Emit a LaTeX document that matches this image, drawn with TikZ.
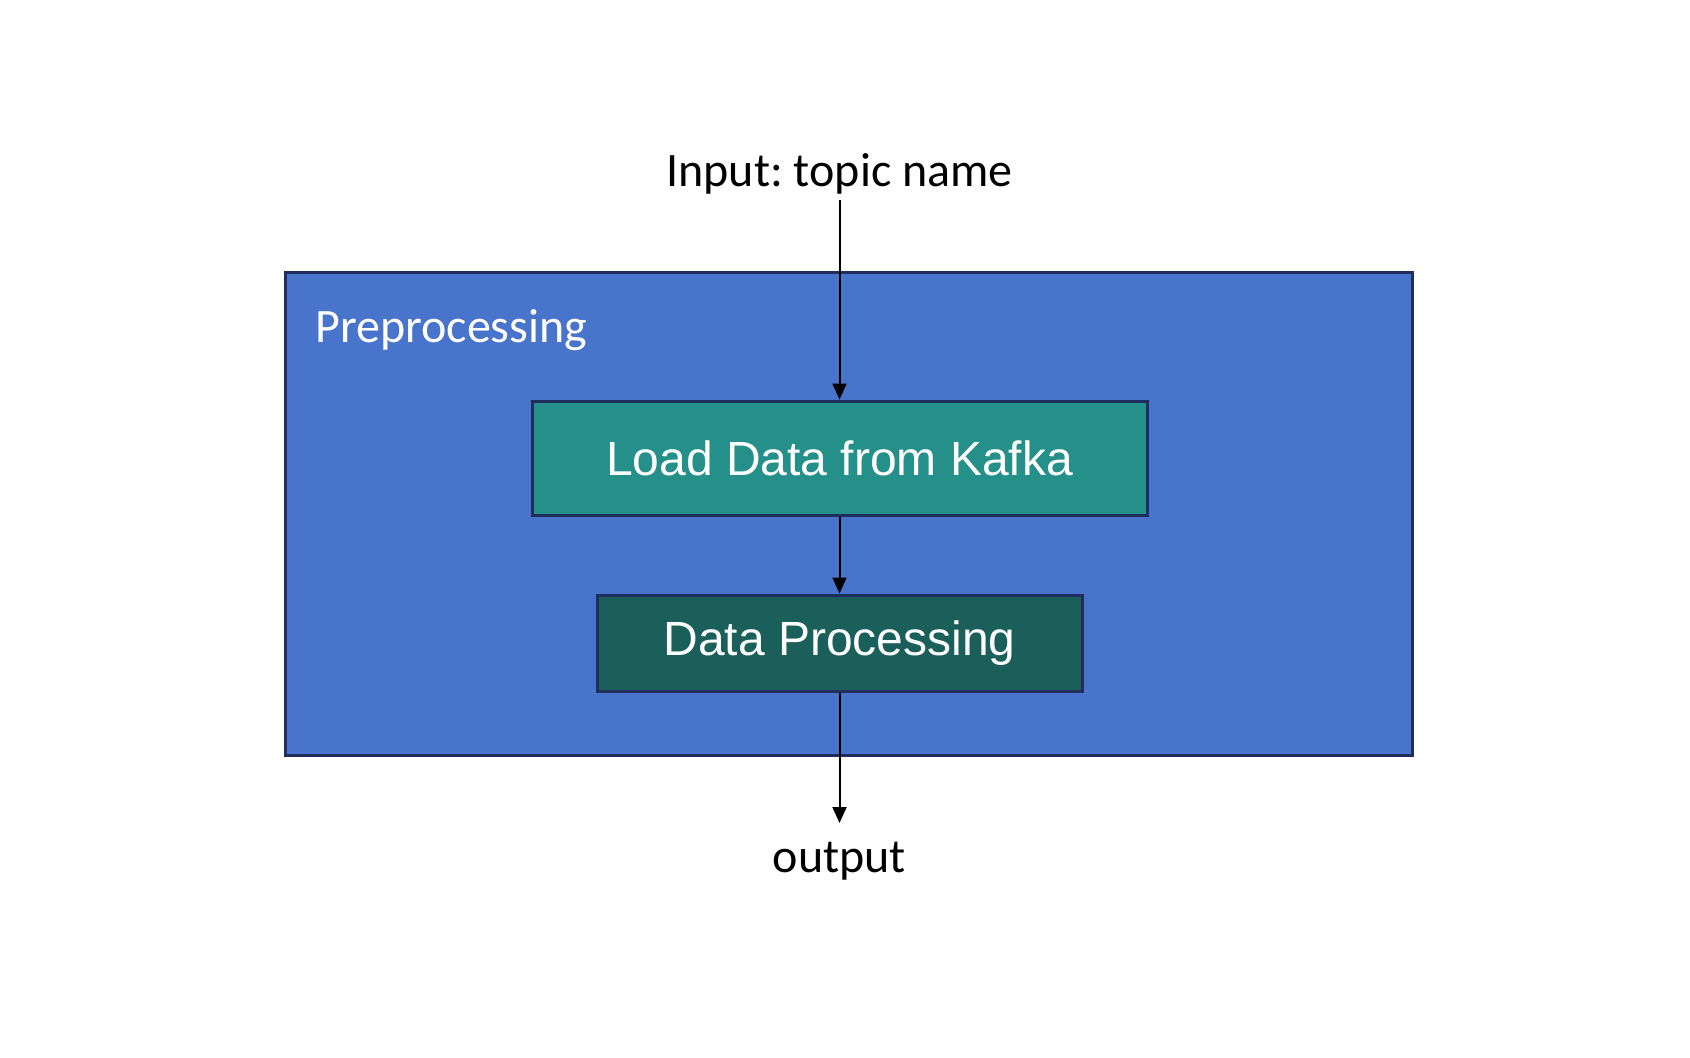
\documentclass[tikz,border=0pt]{standalone}
\usepackage{fontspec}
\setmainfont{Carlito}
\newfontfamily\boxfont{Liberation Sans}
\usepackage{tikz}
\usetikzlibrary{arrows.meta,positioning}
\definecolor{cblue}{HTML}{4874CB}
\definecolor{cteal}{HTML}{25908A}
\definecolor{cdark}{HTML}{1A5F5A}
\definecolor{cnavy}{HTML}{1F2E5C}
\frenchspacing

\begin{document}
\begin{tikzpicture}[x=0.5pt,y=0.5pt,>={Triangle[length=8pt,width=7pt]},
  group node/.style={rectangle,draw=cnavy,line width=1.5pt,fill=cblue,minimum width=563.5pt,minimum height=241pt},
  load node/.style={rectangle,draw=cnavy,line width=1.5pt,fill=cteal,text=white,
        font=\boxfont\fontsize{24}{29}\selectfont,minimum width=307.5pt,minimum height=57pt,inner sep=0pt},
  proc node/.style={load node,fill=cdark,minimum width=242.5pt,minimum height=48pt},
  text node/.style={font=\fontsize{24}{29}\selectfont,inner sep=2.5pt}]
  \useasboundingbox (0,0) rectangle (1690,1057);

  \node[group node] (prep) at (848.5,543) {};
  \node[text node,text=white,anchor=base west,inner sep=0pt] (title) at (315,715) {Preprocessing};
  \node[load node] (load) at (839.5,599) {Load Data from Kafka};
  \node[proc node] (proc) at (839.5,414) {Data Processing};
  \node[text node,anchor=base] (input) at (839.5,870) {Input: topic name};
  \node[text node,anchor=base] (output) at (839.5,185) {output};
  \coordinate (out end) at (839.5,234);

  \path[->,line width=1pt,draw]
    (input) edge (load)
    (load) edge (proc)
    (proc) edge (out end);
\end{tikzpicture}
\end{document}
